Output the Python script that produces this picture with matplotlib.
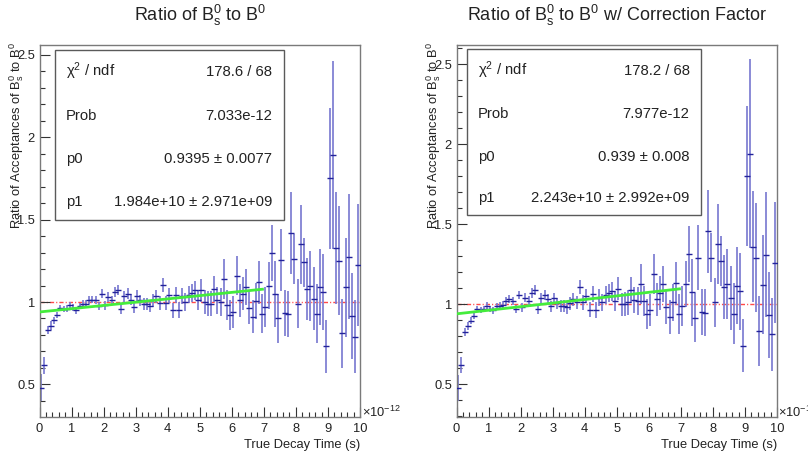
import matplotlib
matplotlib.use("Agg")
import matplotlib.pyplot as plt
from matplotlib.patches import Rectangle
from matplotlib.ticker import MultipleLocator, FormatStrFormatter
import numpy as np

plt.rcParams['font.family'] = ['Liberation Sans', 'DejaVu Sans']
plt.rcParams['mathtext.fontset'] = 'custom'
plt.rcParams['mathtext.rm'] = 'Liberation Sans'
plt.rcParams['mathtext.it'] = 'Liberation Sans:italic'
plt.rcParams['mathtext.bf'] = 'Liberation Sans:bold'
plt.rcParams['mathtext.sf'] = 'Liberation Sans'

# ---- histogram binning: 100 bins over 0..10 (x 1e-12 s) ----
bin_edges = np.linspace(0.0, 10.0, 101)

# ---- acceptance ratio Bs0 / B0 ----
ratio_raw = [
    0.48, 0.615, 0.83, 0.857, 0.89, 0.92, 0.964, 0.958, 0.96, 0.98,
    0.966, 0.95, 0.975, 0.988, 0.99, 1.01, 1.015, 1.01, 0.975, 1.05,
    0.98, 1.03, 1.01, 1.06, 1.075, 0.96, 1.035, 1.05, 1.015, 0.97,
    1.035, 1.01, 0.99, 0.99, 0.975, 1.01, 1.035, 0.995, 1.105, 0.995,
    1.04, 0.95, 1.045, 0.95, 1.035, 1.0, 1.045, 1.055, 1.07, 1.01,
    1.07, 1.0, 0.99, 0.99, 1.08, 1.01, 1.0, 1.14, 0.98, 0.92,
    0.94, 1.16, 1.01, 1.05, 1.09, 0.965, 0.91, 1.005, 1.12, 0.93,
    0.97, 1.10, 1.30, 1.05, 0.90, 1.255, 0.935, 0.927, 1.42, 1.26,
    0.99, 1.35, 1.24, 1.08, 1.097, 1.02, 0.93, 1.09, 1.06, 0.73,
    1.75, 1.89, 1.33, 1.25, 0.81, 1.09, 1.275, 0.915, 0.79, 1.225,
]
err_raw = [
    0.08, 0.05, 0.025, 0.025, 0.022, 0.02, 0.02, 0.02, 0.02, 0.02,
    0.02, 0.02, 0.02, 0.022, 0.022, 0.024, 0.024, 0.025, 0.025, 0.026,
    0.027, 0.028, 0.028, 0.03, 0.03, 0.03, 0.032, 0.032, 0.033, 0.034,
    0.035, 0.035, 0.036, 0.037, 0.038, 0.04, 0.04, 0.042, 0.043, 0.044,
    0.045, 0.046, 0.048, 0.05, 0.05, 0.052, 0.054, 0.056, 0.058, 0.06,
    0.07, 0.07, 0.075, 0.075, 0.08, 0.08, 0.085, 0.12, 0.09, 0.09,
    0.095, 0.12, 0.10, 0.10, 0.11, 0.10, 0.10, 0.11, 0.13, 0.12,
    0.12, 0.14, 0.17, 0.20, 0.15, 0.19, 0.14, 0.14, 0.25, 0.15,
    0.15, 0.24, 0.15, 0.19, 0.21, 0.19, 0.18, 0.23, 0.23, 0.16,
    0.43, 0.57, 0.34, 0.33, 0.21, 0.30, 0.38, 0.26, 0.22, 0.37,
]

# ---- acceptance ratio with correction factor ----
ratio_corr = [
    0.475, 0.618, 0.826, 0.86, 0.895, 0.926, 0.97, 0.964, 0.968, 0.99,
    0.97, 0.96, 0.985, 0.99, 0.995, 1.02, 1.03, 1.02, 0.97, 1.057,
    0.98, 1.04, 1.02, 1.07, 1.086, 0.97, 1.035, 1.057, 1.03, 0.985,
    1.035, 1.005, 0.99, 0.99, 0.98, 1.005, 1.03, 1.01, 1.105, 1.01,
    1.05, 0.964, 1.063, 0.964, 1.04, 1.01, 1.057, 1.07, 1.08, 1.02,
    1.095, 1.0, 1.0, 1.01, 1.09, 1.025, 1.02, 1.126, 1.02, 0.94,
    0.964, 1.19, 1.03, 1.07, 1.126, 0.98, 0.92, 1.01, 1.13, 0.937,
    0.99, 1.126, 1.315, 1.074, 0.916, 1.29, 0.95, 0.947, 1.456, 1.29,
    1.01, 1.378, 1.27, 1.105, 1.126, 1.04, 0.94, 1.115, 1.08, 0.74,
    1.80, 1.94, 1.36, 1.29, 0.83, 1.12, 1.31, 0.93, 0.81, 1.26,
]
err_corr = [
    0.08, 0.05, 0.025, 0.025, 0.022, 0.02, 0.02, 0.02, 0.02, 0.02,
    0.02, 0.02, 0.02, 0.022, 0.022, 0.024, 0.024, 0.025, 0.025, 0.027,
    0.027, 0.028, 0.029, 0.03, 0.031, 0.031, 0.033, 0.033, 0.034, 0.035,
    0.036, 0.036, 0.037, 0.038, 0.039, 0.041, 0.041, 0.043, 0.044, 0.045,
    0.046, 0.047, 0.049, 0.051, 0.052, 0.054, 0.056, 0.058, 0.06, 0.062,
    0.072, 0.072, 0.077, 0.078, 0.082, 0.083, 0.088, 0.125, 0.093, 0.093,
    0.098, 0.125, 0.104, 0.104, 0.115, 0.104, 0.104, 0.115, 0.135, 0.125,
    0.125, 0.145, 0.175, 0.21, 0.155, 0.205, 0.145, 0.145, 0.26, 0.155,
    0.155, 0.25, 0.155, 0.2, 0.22, 0.2, 0.19, 0.24, 0.24, 0.165,
    0.437, 0.59, 0.35, 0.34, 0.22, 0.31, 0.39, 0.27, 0.23, 0.38,
]

# ---- linear fit results (fit range 0..7e-12 s) ----
fit_range = [0.0, 7.0]
fit_raw = dict(p0=0.9395, p1=1.984e10, chi2="178.6 / 68", prob="7.033e-12",
               p0_txt="0.9395 \u00b1 0.0077", p1_txt="1.984e+10 \u00b1 2.971e+09")
fit_corr = dict(p0=0.939, p1=2.243e10, chi2="178.2 / 68", prob="7.977e-12",
                p0_txt="0.939 \u00b1 0.008", p1_txt="2.243e+10 \u00b1 2.992e+09")

titles = [r"Ratio of B$_{\mathrm{s}}^{0}$ to B$^{0}$",
          r"Ratio of B$_{\mathrm{s}}^{0}$ to B$^{0}$ w/ Correction Factor"]
ylabel = r"Ratio of Acceptances of B$_{\mathrm{s}}^{0}$ to B$^{0}$"
xlabel = "True Decay Time (s)"

W, H = 808, 455
fig = plt.figure(figsize=(W / 100, H / 100), dpi=100)
fig.patch.set_facecolor("white")


def fx(px):
    return px / W


def fy(py):
    return 1 - py / H


centers = 0.5 * (bin_edges[:-1] + bin_edges[1:])

panels = [
    dict(left=39.5, right=360.0, ylim=(0.302, 2.56), vals=ratio_raw, errs=err_raw, fit=fit_raw,
         box=(55, 50, 284, 220), rows=(76, 120, 163, 206), txt_l=66, txt_r=272.5,
         title=titles[0]),
    dict(left=456.5, right=777.0, ylim=(0.294, 2.62), vals=ratio_corr, errs=err_corr, fit=fit_corr,
         box=(467, 49, 701, 215), rows=(75, 118, 161, 202), txt_l=478, txt_r=689.5,
         title=titles[1]),
]

top, bottom = 45.0, 417.0
tick_fs = 9.3
for p in panels:
    ax = fig.add_axes([fx(p["left"]), fy(bottom), (p["right"] - p["left"]) / W, (bottom - top) / H])
    ax.set_xlim(0, 10)
    ax.set_ylim(*p["ylim"])

    # reference line at unity
    ax.axhline(1.0, color="#ff4a4a", lw=1.0, dashes=(3.0, 1.5, 0.8, 1.5), zorder=1)

    # binned ratio with errors
    ax.errorbar(centers, p["vals"], yerr=p["errs"], fmt="none", ecolor="#7c7cd2",
                elinewidth=1.25, capsize=0, zorder=2)
    ax.plot(centers, p["vals"], ls="none", marker="_", ms=4.2, mew=1.0,
            color="#22229a", zorder=3)

    # linear fit
    f = p["fit"]
    tf = np.array(fit_range)
    ax.plot(tf, f["p0"] + f["p1"] * tf * 1e-12, color="#44ec3c", lw=2.0,
            solid_capstyle="butt", zorder=4)

    for s in ax.spines.values():
        s.set_color("#7a7a7a")
        s.set_linewidth(1.0)
    ax.xaxis.set_major_locator(MultipleLocator(1))
    ax.xaxis.set_minor_locator(MultipleLocator(0.2))
    ax.yaxis.set_major_locator(MultipleLocator(0.5))
    ax.yaxis.set_minor_locator(MultipleLocator(0.1))
    ax.yaxis.set_major_formatter(FormatStrFormatter("%g"))
    ax.xaxis.set_major_formatter(FormatStrFormatter("%g"))
    ax.tick_params(which="both", direction="in", colors="#333333", width=0.8,
                   labelsize=tick_fs, labelcolor="#222222")
    ax.tick_params(which="major", length=7.2)
    ax.tick_params(which="minor", length=3.6)
    ax.tick_params(axis="x", pad=4.3)
    ax.tick_params(axis="y", pad=3.2)

    # titles and axis labels
    cx = 0.5 * (p["left"] + p["right"])
    fig.text(fx(cx), fy(21), p["title"], ha="center", va="baseline", fontsize=13,
             color="#222222")
    fig.text(fx(p["right"]), fy(448), xlabel, ha="right", va="baseline",
             fontsize=tick_fs, color="#222222")
    fig.text(fx(p["right"] + 1.5), fy(417), "\u00d710$^{\\mathrm{-12}}$", ha="left",
             va="baseline", fontsize=tick_fs, color="#222222")
    fig.text(fx(p["left"] - 23), fy(42), ylabel, rotation=90, ha="center", va="top",
             fontsize=tick_fs, color="#222222")

    # fit statistics box
    x0, y0, x1, y1 = p["box"]
    fig.add_artist(Rectangle((fx(x0), fy(y1)), (x1 - x0) / W, (y1 - y0) / H,
                             transform=fig.transFigure, facecolor="white",
                             edgecolor="#5a5a5a", lw=1.0, zorder=5))
    labels = ["\u03c7$^{\\mathrm{2}}$ / ndf", "Prob", "p0", "p1"]
    values = [f["chi2"], f["prob"], f["p0_txt"], f["p1_txt"]]
    for yy, lab, val in zip(p["rows"], labels, values):
        fig.text(fx(p["txt_l"]), fy(yy), lab, ha="left", va="baseline", fontsize=10.7,
                 color="#222222", zorder=6)
        fig.text(fx(p["txt_r"]), fy(yy), val, ha="right", va="baseline", fontsize=10.7,
                 color="#222222", zorder=6)

fig.savefig("out.png", dpi=100, facecolor="white")
